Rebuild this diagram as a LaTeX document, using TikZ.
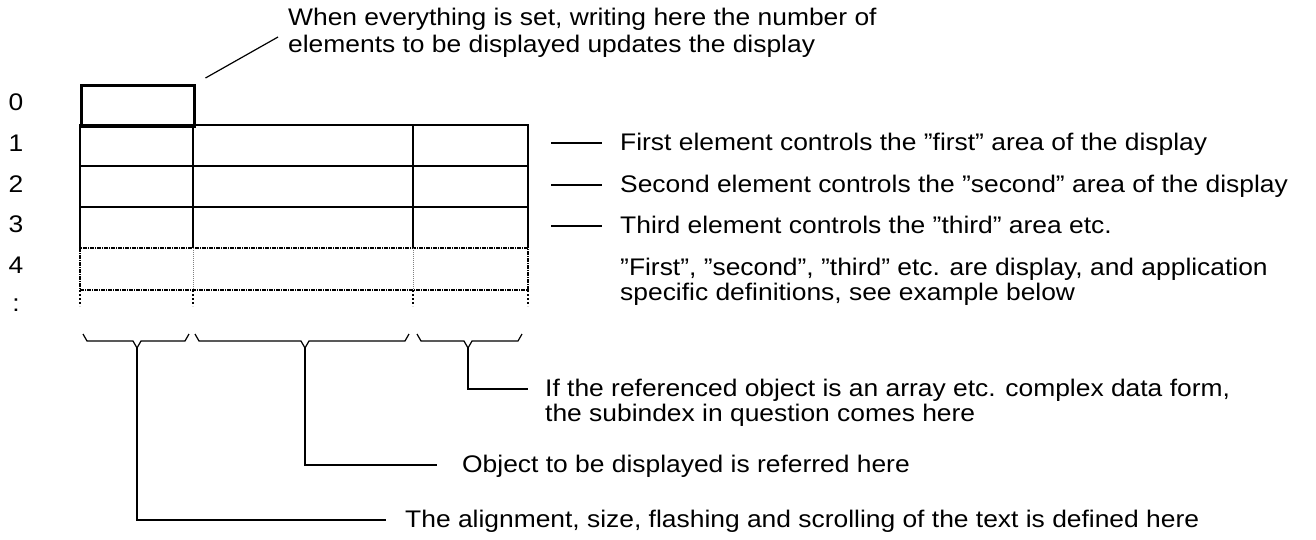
\documentclass[tikz,border=0pt]{standalone}
\usepackage{fontspec}
\setmainfont{Liberation Sans}[FakeStretch=1.1]
\usetikzlibrary{positioning,calc}

\begin{document}
\begin{tikzpicture}[
  x=1pt, y=-1pt,
  font=\fontsize{24}{24.5}\selectfont,
  ln/.style={line width=1.2pt},
  dashln/.style={line width=2.4pt, dash pattern=on 4pt off 1pt on 1pt off 1pt},
  dotln/.style={line width=1pt, gray, dash pattern=on 1pt off 1pt},
  tailln/.style={line width=2pt, dash pattern=on 2pt off 2pt},
  lbl/.style={inner sep=0pt, text height=17pt, text depth=2pt},
  note/.style={inner sep=0pt, align=left, anchor=north west}
]
\useasboundingbox (0,0) rectangle (1316,539);

% row numbers
\foreach \i/\y in {0/103,1/144,2/185,3/225,4/266} \node[lbl] (r\i) at (16,\y) {\i};
\node[lbl] (rmore) at (16,304) {:};

% element 0
\node[draw, line width=2.5pt, inner sep=0pt, minimum width=113pt, minimum height=41pt, anchor=north west] (box0) at (80,84) {};

% elements 1..3
\draw[ln] (80,248) -- (80,125) -- (528,125) -- (528,248);
\foreach \y in {166,207} \draw[ln] (80,\y) -- (528,\y);
\foreach \x in {193,413} \draw[ln] (\x,125) -- (\x,248);
% element 4 and the rest
\draw[dashln] (80,248) rectangle (528,290);
\foreach \x in {193,413} \draw[dotln] (\x,248) -- (\x,290);
\foreach \x in {80,193,413,528} \draw[tailln] (\x,290) -- (\x,306);

% number of elements
\node[note] (topnote) at (288,8) {When everything is set, writing here the number of\\[2pt]elements to be displayed updates the display};
\coordinate (c0) at ($(box0.north east)+(10,-6)$);
\coordinate (c1) at (278,37);
\draw[ln] (c0) -- (c1);

% areas
\foreach \n/\y/\t in {1/143/{First element controls the ”first” area of the display},
                      2/185/{Second element controls the ”second” area of the display},
                      3/226/{Third element controls the ”third” area etc.}} {
  \coordinate (ld\n) at (551,\y);
  \node[lbl, right=69pt of ld\n] (el\n) {\t};
  \draw[ln, shorten >=18pt] (ld\n) -- (el\n.west);
}
\node[note] (defnote) at (620,258) {”First”, ”second”, ”third” etc. are display, and application\\specific definitions, see example below};

% braces under the columns
\foreach \a/\m/\b/\n in {83/137/189/b1,195/305/409/b2,417/468/522/b3} {
  \draw[ln] (\a,334) -- (\a+4,341) -- (\m-4,341) -- (\m,348) -- (\m+4,341) -- (\b-4,341) -- (\b,334);
  \coordinate (\n) at (\m,348);
}

\coordinate (e3) at (528,389);
\draw[ln] (b3) |- (e3);
\node[note] (ifnote) at ($(e3)+(17,-10)$) {If the referenced object is an array etc. complex data form,\\the subindex in question comes here};
\node[lbl, anchor=west] (objnote) at (462,465) {Object to be displayed is referred here};
\draw[ln, shorten >=25pt] (b2) |- (objnote.west);
\node[lbl, anchor=west] (alnote) at (405,520) {The alignment, size, flashing and scrolling of the text is defined here};
\draw[ln, shorten >=19pt] (b1) |- (alnote.west);
\end{tikzpicture}
\end{document}
